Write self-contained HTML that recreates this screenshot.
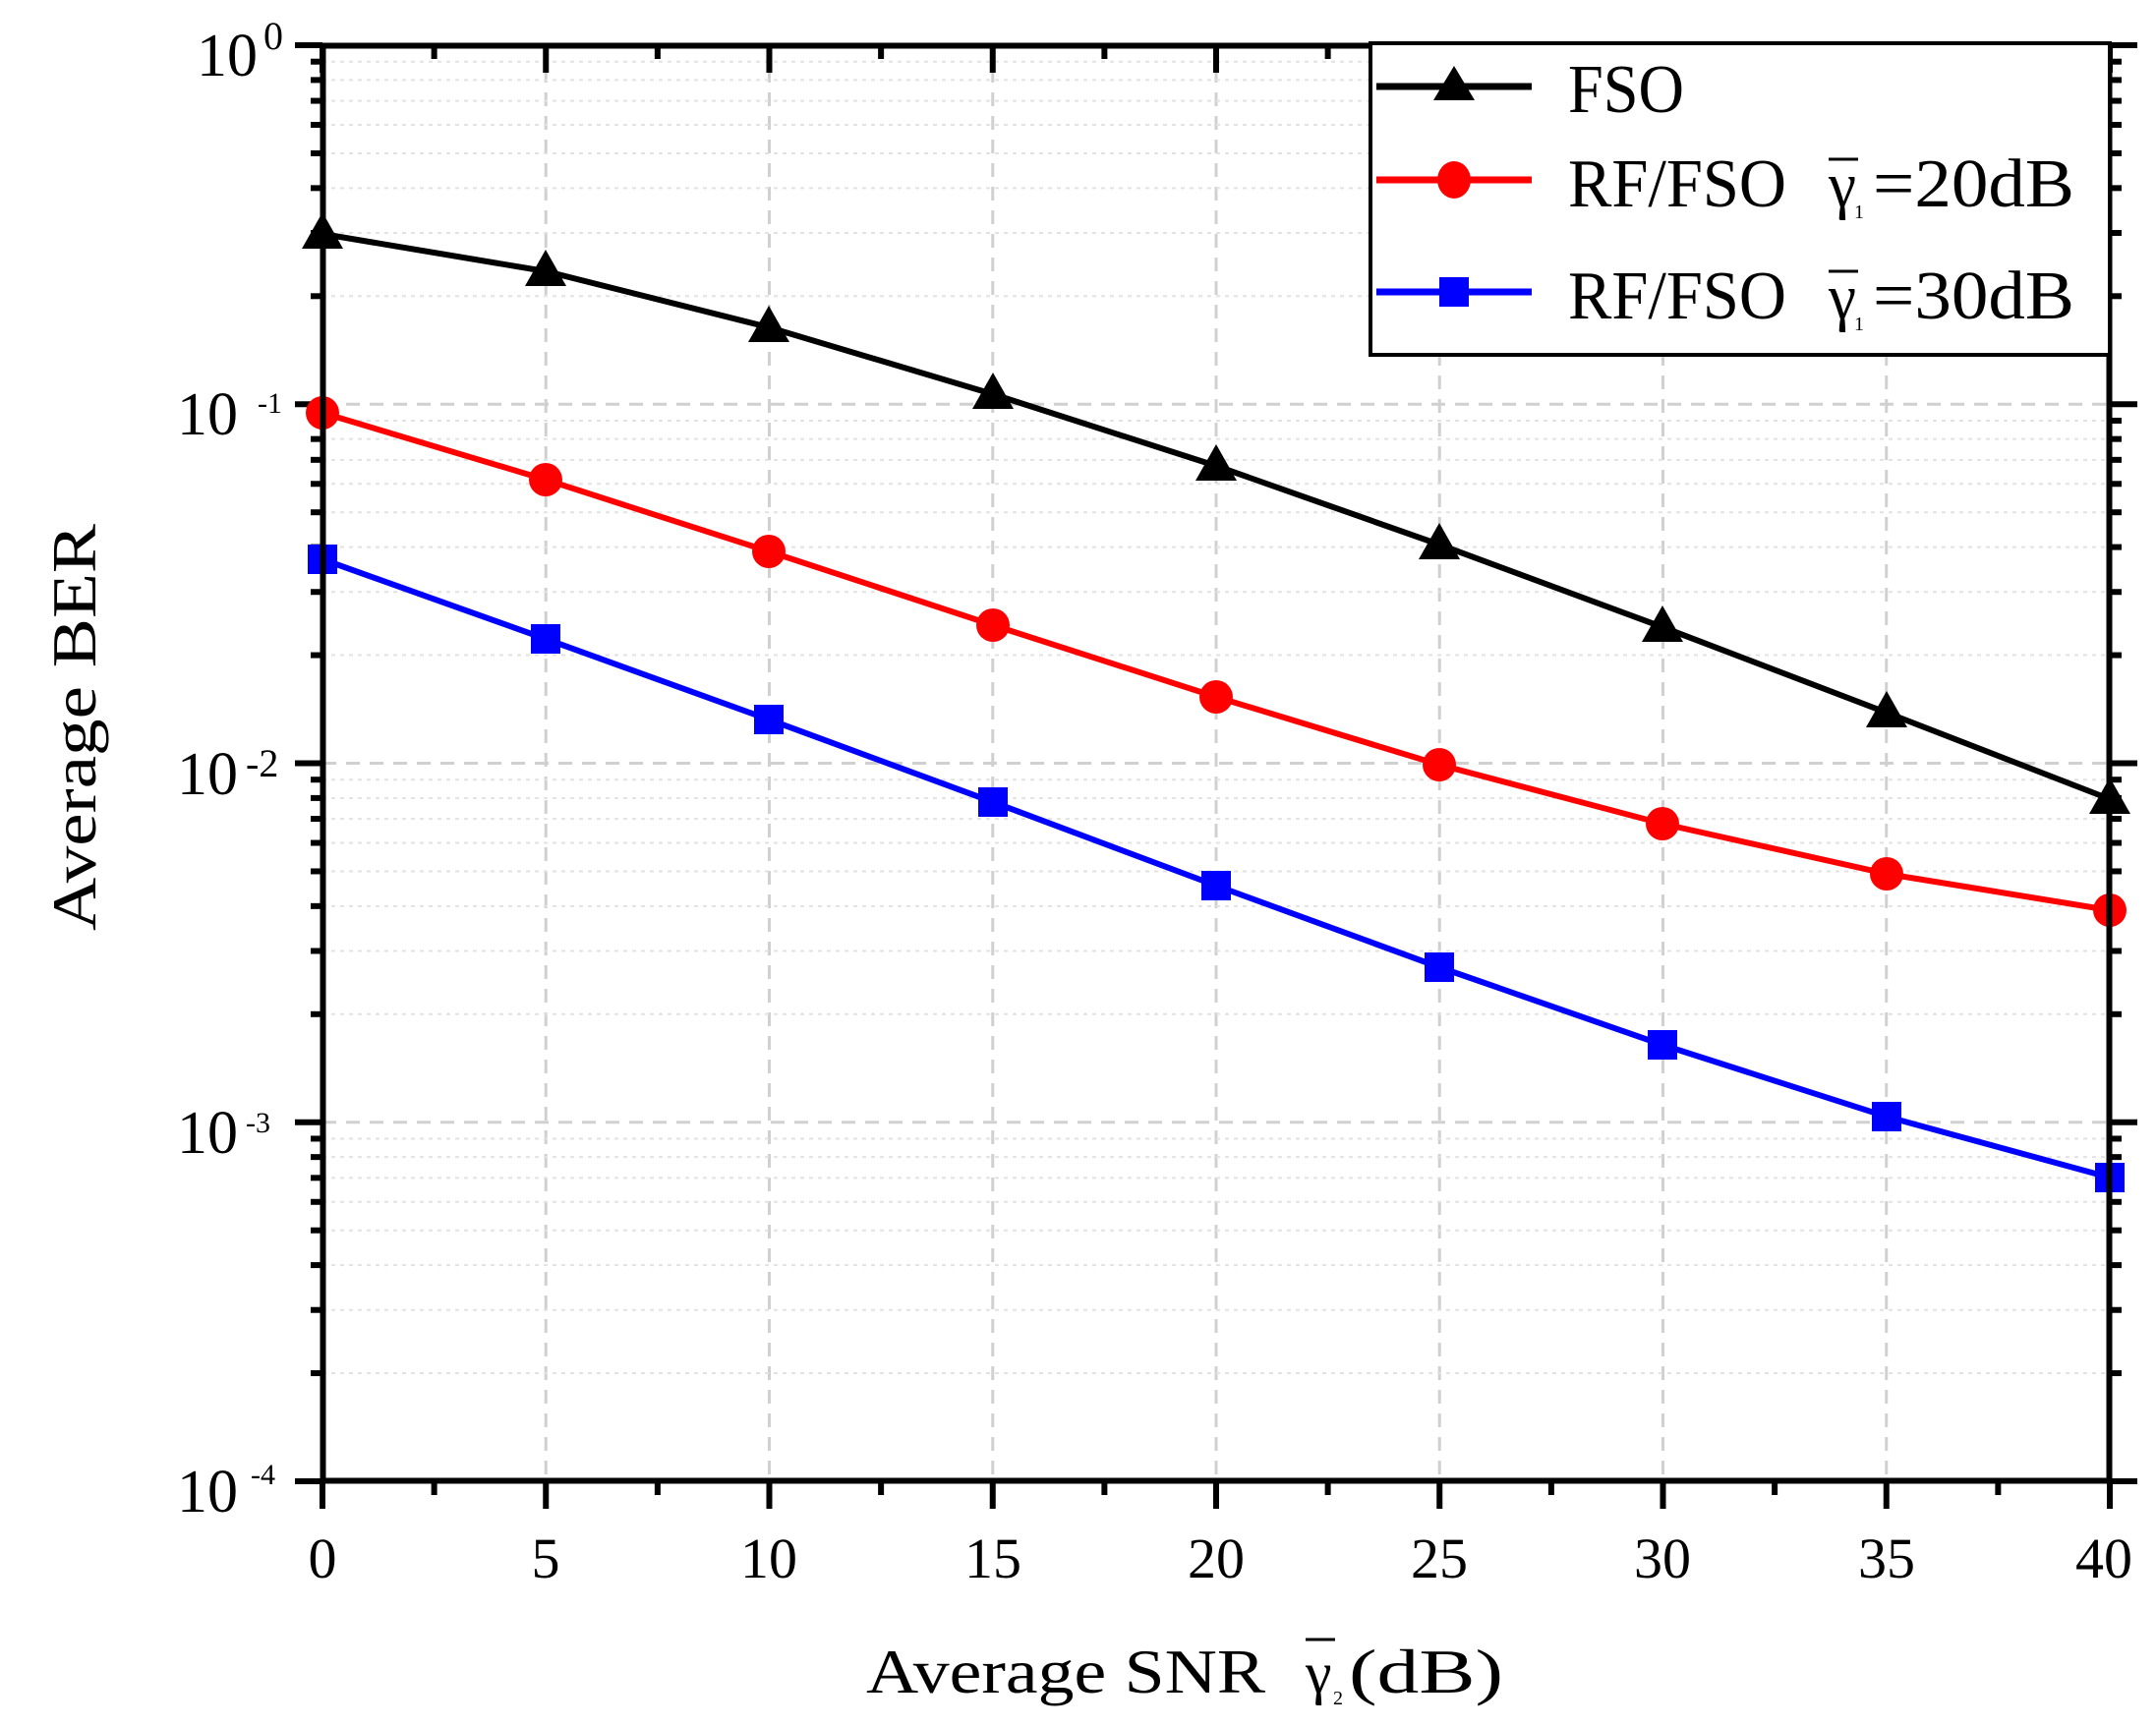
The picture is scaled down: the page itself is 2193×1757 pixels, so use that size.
<!DOCTYPE html>
<html><head><meta charset="utf-8"><style>html,body{margin:0;padding:0;background:#fff}svg{display:block}</style></head>
<body>
<svg id="s" width="2193" height="1757" viewBox="0 0 2193 1757" xmlns="http://www.w3.org/2000/svg" font-family="Liberation Serif, serif">
<rect width="2193" height="1757" fill="#fff"/>
<g id="grid"></g>
<g id="ticks" stroke="#000" stroke-width="6"></g>
<!-- series -->
<polyline fill="none" stroke="#000" stroke-width="6" points="328,238 555,276 782,333 1010,401 1237,474 1464,554 1691,638 1919,725 2146,813"/>
<polyline fill="none" stroke="#f00" stroke-width="6" points="328,420 555,488 782,561 1010,636 1237,709 1464,778 1691,838 1919,889 2146,926"/>
<polyline fill="none" stroke="#00f" stroke-width="6" points="328,569 555,650 782,732 1010,816 1237,901 1464,984 1691,1063 1919,1136 2146,1198"/>
<g id="mk"></g>
<rect x="328.5" y="46.5" width="1817" height="1460" fill="none" stroke="#000" stroke-width="6"/>
<!-- legend -->
<rect x="1394" y="44" width="752" height="317" fill="#fff" stroke="#000" stroke-width="4"/>
<line x1="1400" y1="88" x2="1558" y2="88" stroke="#000" stroke-width="7"/>
<polygon points="1479,67 1500,102 1458,102" fill="#000"/>
<line x1="1400" y1="183" x2="1558" y2="183" stroke="#f00" stroke-width="7"/>
<ellipse cx="1479" cy="183" rx="17" ry="19" fill="#f00"/>
<line x1="1400" y1="297" x2="1558" y2="297" stroke="#00f" stroke-width="7"/>
<rect x="1464" y="282" width="30" height="30" fill="#00f"/>
<g font-size="70" fill="#000">
<text x="1595" y="114" textLength="118" lengthAdjust="spacingAndGlyphs">FSO</text>
<text x="1595" y="210" textLength="222" lengthAdjust="spacingAndGlyphs">RF/FSO</text>
<text x="1860" y="210" font-size="66" textLength="28" lengthAdjust="spacingAndGlyphs">γ</text>
<line x1="1860" y1="162" x2="1890" y2="162" stroke="#000" stroke-width="3"/>
<text x="1886" y="222" font-size="20">1</text>
<text x="1905" y="210" textLength="205" lengthAdjust="spacingAndGlyphs">=20dB</text>
<text x="1595" y="324" textLength="222" lengthAdjust="spacingAndGlyphs">RF/FSO</text>
<text x="1860" y="324" font-size="66" textLength="28" lengthAdjust="spacingAndGlyphs">γ</text>
<line x1="1860" y1="276" x2="1890" y2="276" stroke="#000" stroke-width="3"/>
<text x="1886" y="336" font-size="20">1</text>
<text x="1905" y="324" textLength="205" lengthAdjust="spacingAndGlyphs">=30dB</text>
</g>
<!-- y tick labels -->
<g font-size="62" fill="#000">
<text x="200" y="77">10</text><text x="268" y="50" font-size="40">0</text>
<text x="180" y="442">10</text><text x="262" y="420" font-size="30">-1</text>
<text x="180" y="808">10</text><text x="250" y="790" font-size="40">-2</text>
<text x="180" y="1173">10</text><text x="250" y="1152" font-size="30">-3</text>
<text x="180" y="1538">10</text><text x="255" y="1510" font-size="30">-4</text>
</g>
<!-- x tick labels -->
<g font-size="58" fill="#000" text-anchor="middle">
<text x="328" y="1605">0</text><text x="555" y="1605">5</text><text x="782" y="1605">10</text>
<text x="1010" y="1605">15</text><text x="1237" y="1605">20</text><text x="1464" y="1605">25</text>
<text x="1691" y="1605">30</text><text x="1919" y="1605">35</text><text x="2140" y="1605">40</text>
</g>
<!-- axis titles -->
<g font-size="64" fill="#000">
<text x="881" y="1722" textLength="406" lengthAdjust="spacingAndGlyphs">Average SNR</text>
<text x="1328" y="1722" font-size="60">γ</text>
<line x1="1328" y1="1668" x2="1358" y2="1668" stroke="#000" stroke-width="3"/>
<text x="1356" y="1734" font-size="20">2</text>
<text x="1372" y="1722" textLength="157" lengthAdjust="spacingAndGlyphs">(dB)</text>
<text transform="translate(97,947) rotate(-90)" textLength="414" lengthAdjust="spacingAndGlyphs">Average  BER</text>
</g>
<script>
(function(){
var NS="http://www.w3.org/2000/svg",g=document.getElementById('grid'),t=document.getElementById('ticks'),m=document.getElementById('mk');
function el(p,tag,a){var e=document.createElementNS(NS,tag);for(var k in a)e.setAttribute(k,a[k]);p.appendChild(e);return e;}
var L=328,R=2146,T=46,B=1507,D=365.25;
for(var i=1;i<8;i++){var x=L+i*227.25;el(g,'line',{x1:x,y1:T,x2:x,y2:B,stroke:'#d0d0d0','stroke-width':3,'stroke-dasharray':'14,10'});}
for(var d=0;d<4;d++){
 var y0=T+d*D;
 if(d>0)el(g,'line',{x1:L,y1:y0,x2:R,y2:y0,stroke:'#d0d0d0','stroke-width':3,'stroke-dasharray':'14,10'});
 for(var k=2;k<10;k++){var y=T+(d+1)*D-Math.log10(k)*D;
  el(g,'line',{x1:L,y1:y,x2:R,y2:y,stroke:'#e2e2e2','stroke-width':2,'stroke-dasharray':'4,5'});
  el(t,'line',{x1:L-12,y1:y,x2:L,y2:y});el(t,'line',{x1:R,y1:y,x2:R+12,y2:y});}
}
for(var d=0;d<=4;d++){var y=T+d*D;el(t,'line',{x1:L-28,y1:y,x2:L,y2:y});el(t,'line',{x1:R,y1:y,x2:R+28,y2:y});}
for(var i=0;i<=16;i++){var x=L+i*113.625,len=(i%2==0)?28:14;
 el(t,'line',{x1:x,y1:B,x2:x,y2:B+len});el(t,'line',{x1:x,y1:T,x2:x,y2:T+len});}
var xs=[328,555,782,1010,1237,1464,1691,1919,2146];
var f=[238,276,333,401,474,554,638,725,813],r=[420,488,561,636,709,778,838,889,926],b=[569,650,732,816,901,984,1063,1136,1198];
for(var i=0;i<9;i++){
 el(m,'polygon',{points:(xs[i])+','+(f[i]-22)+' '+(xs[i]+21)+','+(f[i]+15)+' '+(xs[i]-21)+','+(f[i]+15),fill:'#000'});
 el(m,'circle',{cx:xs[i],cy:r[i],r:17,fill:'#f00'});
 el(m,'rect',{x:xs[i]-15,y:b[i]-15,width:30,height:30,fill:'#00f'});
}
})();
</script>
</svg>
</body></html>
